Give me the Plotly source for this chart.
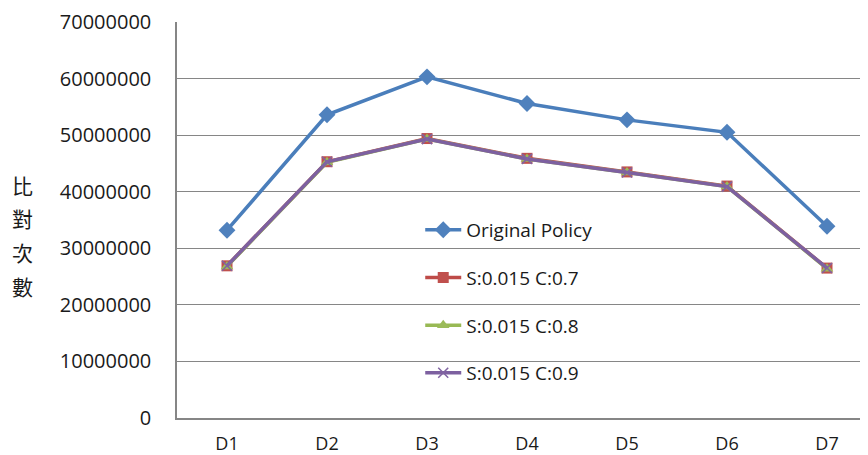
import plotly.graph_objects as go

categories = ["D1", "D2", "D3", "D4", "D5", "D6", "D7"]
original_policy = [33200000, 53600000, 60300000, 55600000, 52700000, 50500000, 33900000]
s015_c07 = [26900000, 45300000, 49400000, 45900000, 43500000, 41000000, 26500000]
s015_c08 = [26800000, 45200000, 49300000, 45800000, 43400000, 40900000, 26400000]
s015_c09 = [26900000, 45300000, 49300000, 45800000, 43400000, 40900000, 26500000]
y_ticks = [0, 10000000, 20000000, 30000000, 40000000, 50000000, 60000000, 70000000]
y_title_chars = ["比", "對", "次", "數"]

series = [
    ("Original Policy", original_policy, "#4A7EBB", "#4F81BD", "diamond", 13),
    ("S:0.015 C:0.7", s015_c07, "#BE4B48", "#C0504D", "square", 11),
    ("S:0.015 C:0.8", s015_c08, "#98B954", "#9BBB59", "triangle-up", 11),
    ("S:0.015 C:0.9", s015_c09, "#7D60A0", "#8064A2", "x-thin", 10),
]

fig = go.Figure()
for i, (name, vals, lc, mc, sym, ms) in enumerate(series):
    marker = dict(symbol=sym, size=ms, color=mc)
    if sym == "x-thin":
        marker["line"] = dict(color=mc, width=1.5)
    fig.add_trace(go.Scatter(
        x=categories, y=vals, name=name, mode="lines+markers",
        line=dict(color=lc, width=3.5), marker=marker,
        legendgroup=f"g{i}",
    ))

# page body has an 8px margin; the figure is sized so it ends at the window edge
W, H = 860, 447
L, T, B, R = 169, 14, 37, 0
pw = W - L - R
ph = H - T - B

font_family = "Open Sans, Lato, sans-serif"
fig.update_layout(
    width=W, height=H,
    margin=dict(l=L, r=R, t=T, b=B, autoexpand=False),
    paper_bgcolor="white", plot_bgcolor="white",
    font=dict(family=font_family, size=20, color="#1a1a1a"),
    showlegend=True,
    legend=dict(
        x=0.352, y=0.523, xanchor="left", yanchor="top",
        bgcolor="rgba(0,0,0,0)", font=dict(size=19, color="#1a1a1a"),
        traceorder="grouped", tracegroupgap=20, itemwidth=36,
    ),
    xaxis=dict(
        type="category", range=[-0.5, 6.41], showgrid=False,
        showline=True, linecolor="#868686", linewidth=1.5,
        ticks="", tickfont=dict(size=18), ticklabelstandoff=9,
        zeroline=False, automargin=False,
    ),
    yaxis=dict(
        range=[0, 70000000], tickvals=y_ticks,
        ticktext=[str(v) for v in y_ticks],
        showgrid=True, gridcolor="#868686", gridwidth=1,
        showline=True, linecolor="#868686", linewidth=1.5,
        ticks="", tickfont=dict(size=20), ticklabelstandoff=20,
        zeroline=False, automargin=False,
    ),
)

ys = [185, 218, 252, 286]
for ch, yp in zip(y_title_chars, ys):
    fig.add_annotation(
        text=ch, xref="paper", yref="paper",
        x=(22 - 177) / pw, y=(418 - yp) / ph,
        xanchor="center", yanchor="middle", showarrow=False,
        font=dict(family="Noto Sans CJK TC", size=21, color="#1a1a1a"),
    )

fig.write_html("out.html")
